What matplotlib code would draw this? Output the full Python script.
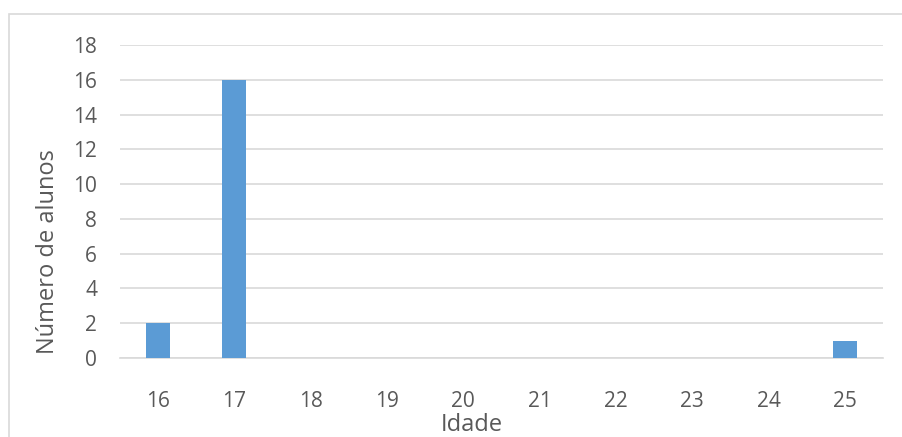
import matplotlib.pyplot as plt
from matplotlib.patches import Rectangle

plt.rcParams['font.family'] = ['Open Sans', 'DejaVu Sans']

# dados
idades = ['16', '17', '18', '19', '20', '21', '22', '23', '24', '25']
alunos = [2, 16, 0, 0, 0, 0, 0, 0, 0, 1]

cor_barra = '#5b9bd5'
cor_grade = '#d9d9d9'
cor_texto = '#595959'

fig = plt.figure(figsize=(9.03, 4.37), dpi=100)
ax = fig.add_axes([0.1329, 0.1808, 0.845, 0.7162])

# moldura do gráfico (cortada à direita e em baixo)
fig.patches.append(Rectangle((8.5 / 903, -0.1), 1.2, 1 - 14.5 / 437 + 0.1,
                             transform=fig.transFigure, fill=False,
                             edgecolor=cor_grade, linewidth=1.2))

x = range(len(idades))
ax.bar(x, alunos, width=0.315, color=cor_barra, zorder=3)

ax.set_xlim(-0.5, len(idades) - 0.5)
ax.set_ylim(0, 18)
ax.set_yticks(range(0, 19, 2))
ax.set_xticks(list(x))
ax.set_xticklabels(idades)

ax.grid(axis='y', color=cor_grade, linewidth=1.2, zorder=0)
for s in ['top', 'right', 'left']:
    ax.spines[s].set_visible(False)
ax.spines['bottom'].set_color(cor_grade)
ax.spines['bottom'].set_linewidth(1.2)
ax.tick_params(axis='both', length=0, labelsize=15, colors=cor_texto)
ax.tick_params(axis='y', pad=16.5)
ax.tick_params(axis='x', pad=24)

ax.set_xlabel('Idade', fontsize=17, color=cor_texto)
ax.set_ylabel('Número de alunos', fontsize=17, color=cor_texto)
ax.xaxis.set_label_coords(0.461, -0.176)
ax.yaxis.set_label_coords(-0.0785, 0.339)

plt.savefig('out.png', dpi=100)
